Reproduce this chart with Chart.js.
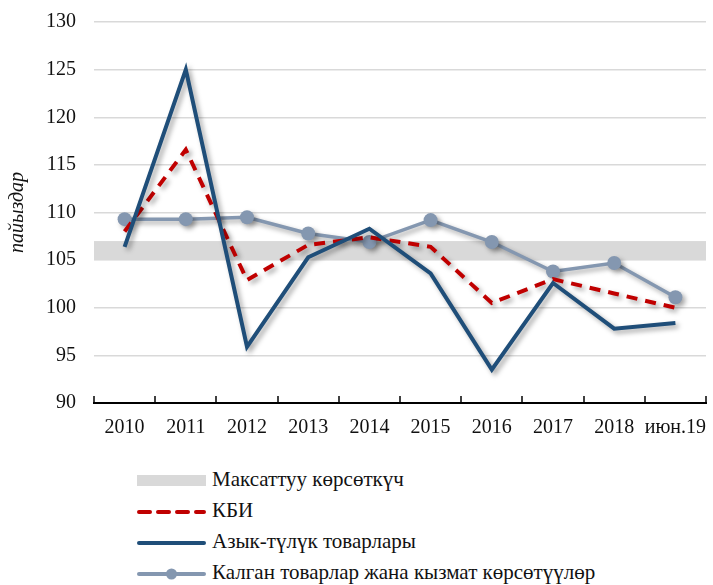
<!DOCTYPE html>
<html>
<head>
<meta charset="utf-8">
<script src="https://cdn.jsdelivr.net/npm/chart.js@4.4.1/dist/chart.umd.min.js"></script>
<style>
    body { margin: 0; background: #fff; }
    #wrap { position: relative; width: 713px; height: 585px; }
    #chartBox { position: absolute; left: 0; top: 0; width: 713px; height: 450px; }
    .legend { position: absolute; left: 137px; top: 466px; font-family: 'Liberation Serif', serif; font-size: 21px; color: #111; }
    .legend .row { position: relative; height: 31px; }
    .legend .mark { position: absolute; left: 0; top: 9px; width: 69px; height: 12px; }
    .legend span { position: absolute; left: 75px; top: 1px; white-space: nowrap; }
</style>
</head>
<body>
<div id="wrap">
    <div id="chartBox"><canvas id="chart"></canvas></div>
    <div class="legend">
        <div class="row"><svg class="mark" width="69" height="12"><rect x="0" y="0" width="69" height="11" fill="#d9d9d9"/></svg><span>Максаттуу көрсөткүч</span></div>
        <div class="row"><svg class="mark" width="69" height="12"><line x1="2" y1="6" x2="67" y2="6" stroke="#c00000" stroke-width="4" stroke-dasharray="11 8" stroke-linecap="round"/></svg><span>КБИ</span></div>
        <div class="row"><svg class="mark" width="69" height="12"><line x1="2" y1="6" x2="67" y2="6" stroke="#1f4e79" stroke-width="4" stroke-linecap="round"/></svg><span>Азык-түлүк товарлары</span></div>
        <div class="row"><svg class="mark" width="69" height="12"><line x1="2" y1="6" x2="67" y2="6" stroke="#8497b0" stroke-width="4" stroke-linecap="round"/><circle cx="34.5" cy="6" r="5.5" fill="#8497b0"/></svg><span>Калган товарлар жана кызмат көрсөтүүлөр</span></div>
    </div>
</div>
<script>
const years = ['2010', '2011', '2012', '2013', '2014', '2015', '2016', '2017', '2018', 'июн.19'];
const cpi = [108.0, 116.6, 102.9, 106.6, 107.4, 106.4, 100.5, 103.0, 101.5, 100.0];
const food = [106.4, 125.0, 95.9, 105.3, 108.3, 103.6, 93.5, 102.6, 97.8, 98.4];
const other = [109.3, 109.3, 109.5, 107.8, 106.9, 109.2, 106.9, 103.8, 104.7, 101.1];
const targetLow = 105;
const targetHigh = 107;

const serif = "'Liberation Serif', 'Times New Roman', serif";

// gray target band across the whole plot
const targetBand = {
    id: 'targetBand',
    beforeDatasetsDraw(chart) {
        const { ctx, chartArea, scales } = chart;
        const top = scales.y.getPixelForValue(targetHigh);
        const bottom = scales.y.getPixelForValue(targetLow);
        ctx.save();
        ctx.fillStyle = '#d9d9d9';
        ctx.fillRect(chartArea.left, top, chartArea.right - chartArea.left, bottom - top);
        ctx.restore();
    },
};

// soft drop shadow under the lines
const lineShadow = {
    id: 'lineShadow',
    beforeDatasetDraw(chart) {
        const ctx = chart.ctx;
        ctx.save();
        ctx.shadowColor = 'rgba(0,0,0,0.35)';
        ctx.shadowBlur = 5;
        ctx.shadowOffsetX = 3;
        ctx.shadowOffsetY = 3;
    },
    afterDatasetDraw(chart) {
        chart.ctx.restore();
    },
};

// small tick marks pointing up from the x axis, between categories
const upTicks = {
    id: 'upTicks',
    afterDraw(chart) {
        const { ctx, scales } = chart;
        const x = scales.x;
        const yb = x.top;
        ctx.save();
        ctx.strokeStyle = '#000';
        ctx.lineWidth = 1.5;
        for (let i = 0; i <= years.length; i++) {
            const px = Math.round(x.getPixelForValue(i - 0.5));
            ctx.beginPath();
            ctx.moveTo(px, yb);
            ctx.lineTo(px, yb - 7);
            ctx.stroke();
        }
        ctx.restore();
    },
};

new Chart(document.getElementById('chart'), {
    type: 'line',
    data: {
        labels: years,
        datasets: [
            {
                label: 'Азык-түлүк товарлары',
                data: food,
                borderColor: '#1f4e79',
                borderWidth: 4,
                pointRadius: 0,
                tension: 0,
            },
            {
                label: 'КБИ',
                data: cpi,
                borderColor: '#c00000',
                borderWidth: 4,
                borderDash: [11, 8],
                pointRadius: 0,
                tension: 0,
            },
            {
                label: 'Калган товарлар жана кызмат көрсөтүүлөр',
                data: other,
                borderColor: '#8497b0',
                backgroundColor: '#8497b0',
                borderWidth: 3.5,
                pointRadius: 7,
                pointBorderWidth: 0,
                tension: 0,
            },
        ],
    },
    options: {
        responsive: true,
        maintainAspectRatio: false,
        animation: false,
        layout: { padding: { top: 22, right: 2, left: 0, bottom: 0 } },
        plugins: {
            legend: { display: false },
            tooltip: { enabled: false },
        },
        scales: {
            x: {
                offset: true,
                grid: { display: true, offset: true, drawOnChartArea: false, drawTicks: false },
                border: { display: true, color: '#000', width: 2 },
                ticks: {
                    color: '#111',
                    padding: 13,
                    maxRotation: 0,
                    autoSkip: false,
                    font: { family: serif, size: 20 },
                },
                afterFit(scale) {
                    scale.height = 47;
                    scale.paddingLeft = 0;
                    scale.paddingRight = 0;
                },
            },
            y: {
                min: 90,
                max: 130,
                ticks: {
                    stepSize: 5,
                    color: '#111',
                    padding: 18,
                    font: { family: serif, size: 20 },
                },
                grid: { color: '#d9d9d9', lineWidth: 1.5, drawTicks: false },
                border: { display: false },
                title: {
                    display: true,
                    text: 'пайыздар',
                    color: '#111',
                    padding: { top: 6, bottom: 0 },
                    font: { family: serif, size: 20, style: 'italic' },
                },
                afterFit(scale) {
                    scale.width = 94;
                    scale.paddingTop = 0;
                    scale.paddingBottom = 0;
                },
            },
        },
    },
    plugins: [targetBand, lineShadow, upTicks],
});
</script>
</body>
</html>
